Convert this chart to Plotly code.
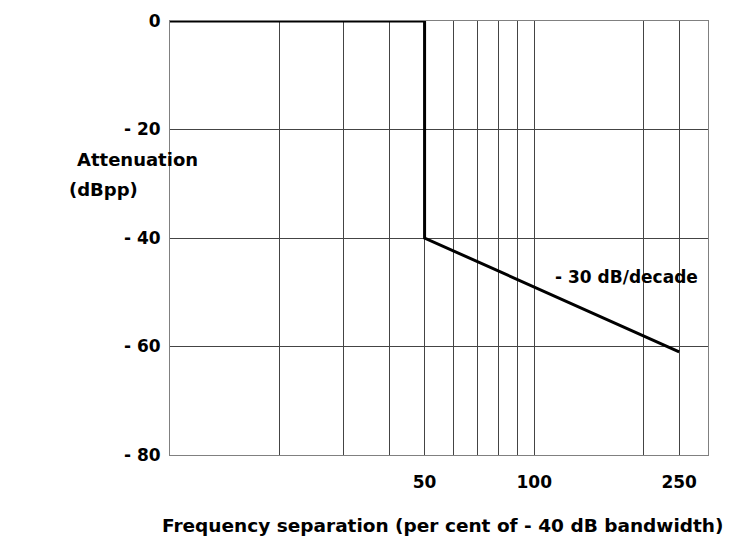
import plotly.graph_objects as go

# Data
freq = [10, 50, 50, 250]
atten = [0, 0, -40, -61]
grid_x = [10, 20, 30, 40, 50, 60, 70, 80, 90, 100, 200, 250, 300]
x_labels = {50: "50", 100: "100", 250: "250"}
y_ticks = [0, -20, -40, -60, -80]
y_labels = ["0", "- 20", "- 40", "- 60", "- 80"]
slope_label = "- 30 dB/decade"
y_title = ["Attenuation", "(dBpp)"]
x_title = "Frequency separation (per cent of - 40 dB bandwidth)"

FONT = "DejaVu Sans"

fig = go.Figure()
fig.add_trace(go.Scatter(x=freq, y=atten, mode="lines",
                         line=dict(color="black", width=3),
                         cliponaxis=False, showlegend=False, hoverinfo="skip"))

fig.add_annotation(x=2.252, y=-47.2, xref="x", yref="y", text=f"<b>{slope_label}</b>",
                   showarrow=False, font=dict(family=FONT, size=17, color="black"))
fig.add_annotation(x=-0.1766, y=-25.6, xref="paper", yref="y", text=f"<b>{y_title[0]}</b>",
                   showarrow=False, font=dict(family=FONT, size=18, color="black"))
fig.add_annotation(x=-0.1914, y=-31.0, xref="paper", yref="y", text=f"<b>{y_title[1]}</b>",
                   showarrow=False, font=dict(family=FONT, size=18, color="black"))
fig.add_annotation(x=0.507, y=-0.163, xref="paper", yref="paper", text=f"<b>{x_title}</b>",
                   showarrow=False, yanchor="middle",
                   font=dict(family=FONT, size=18.5, color="black"))

fig.update_layout(
    width=723, height=528,
    margin=dict(l=162, r=23, t=13, b=81),
    paper_bgcolor="white", plot_bgcolor="white",
    font=dict(family=FONT, size=17, color="black"),
    xaxis=dict(type="log", range=[1, 2.4771],
               tickvals=grid_x,
               ticktext=[f"<b>{x_labels[v]}</b>" if v in x_labels else "" for v in grid_x],
               showgrid=True, gridcolor="#444", gridwidth=1,
               showline=True, linecolor="#808080", linewidth=1, mirror=True,
               ticks="", ticklabelstandoff=12, zeroline=False, automargin=False,
               tickfont=dict(family=FONT, size=17)),
    yaxis=dict(range=[-80, 0], tickvals=y_ticks,
               ticktext=[f"<b>{t}</b>" for t in y_labels],
               showgrid=True, gridcolor="#444", gridwidth=1,
               showline=True, linecolor="#808080", linewidth=1, mirror=True,
               ticks="", ticklabelstandoff=5, zeroline=False, automargin=False,
               tickfont=dict(family=FONT, size=17)),
)

fig.write_html("out.html")
